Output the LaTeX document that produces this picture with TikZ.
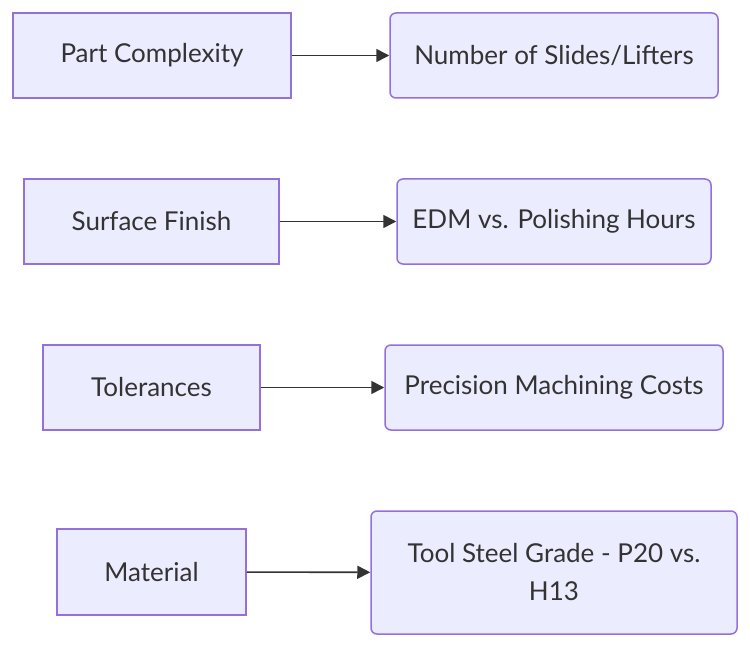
\documentclass[tikz,border=0pt]{standalone}
\usepackage{fontspec}
\setmainfont{Lato}
\usetikzlibrary{arrows.meta}
\definecolor{nfill}{HTML}{ECECFF}
\definecolor{nborder}{HTML}{9370DB}
\definecolor{ntext}{HTML}{333333}
\tikzset{
  base/.style={draw=nborder, fill=nfill, line width=1.5pt, text=ntext, inner sep=0pt,
    font=\fontsize{26}{38}\selectfont, align=center},
  sqbox/.style={base, rectangle},
  rdbox/.style={base, rectangle, rounded corners=6pt},
  conn/.style={draw=ntext, line width=1.6pt, -{Triangle[length=13pt,width=13pt]}}
}
\begin{document}
\begin{tikzpicture}[x=1pt,y=-1pt]
\useasboundingbox (0,0) rectangle (750,650);
\node[sqbox, minimum width=278pt, minimum height=85pt] (a1) at (152,55.5) {Part Complexity};
\node[rdbox, minimum width=328pt, minimum height=85pt] (b1) at (554,55.5) {Number of Slides/Lifters};
\node[sqbox, minimum width=255pt, minimum height=85pt] (a2) at (151.5,221.5) {Surface Finish};
\node[rdbox, minimum width=314pt, minimum height=85pt] (b2) at (554,221.5) {EDM vs. Polishing Hours};
\node[sqbox, minimum width=217pt, minimum height=85pt] (a3) at (151.5,387.5) {Tolerances};
\node[rdbox, minimum width=338pt, minimum height=85pt] (b3) at (554,387.5) {Precision Machining Costs};
\node[sqbox, minimum width=189pt, minimum height=86pt] (a4) at (151.5,572) {Material};
\node[rdbox, minimum width=366pt, minimum height=123pt] (b4) at (554,572.5) {Tool Steel Grade - P20 vs.\\H13};
\draw[conn] (a1) -- (b1);
\draw[conn] (a2) -- (b2);
\draw[conn] (a3) -- (b3);
\draw[conn] (a4) -- (b4);
\end{tikzpicture}
\end{document}
